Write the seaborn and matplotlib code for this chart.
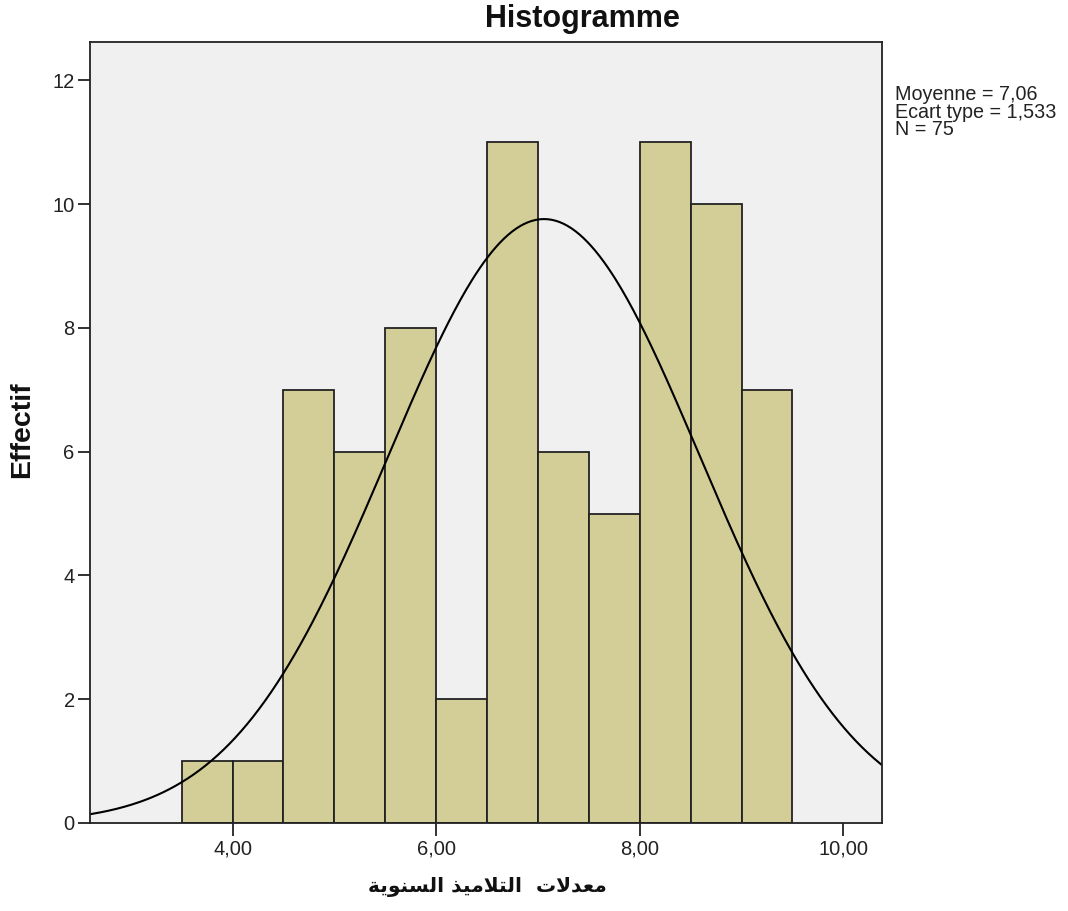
import numpy as np
import pandas as pd
import matplotlib
matplotlib.use("Agg")
import matplotlib.pyplot as plt
import seaborn as sns

# ---- data ----
bin_edges = [3.5, 4.0, 4.5, 5.0, 5.5, 6.0, 6.5, 7.0, 7.5, 8.0, 8.5, 9.0, 9.5]
counts = [1, 1, 7, 6, 8, 2, 11, 6, 5, 11, 10, 7]
mean_val = 7.06
sd_val = 1.533
n_val = 75
x_ticks = [4.0, 6.0, 8.0, 10.0]
x_tick_labels = ["4,00", "6,00", "8,00", "10,00"]
y_ticks = [0, 2, 4, 6, 8, 10, 12]
title_text = "Histogramme"
y_label = "Effectif"
# "معدلات  التلاميذ السنوية" written with Arabic presentation forms in visual order
x_label = ("\uFE94\uFEF3\uFEEE\uFEE8\uFEB4\uFEDF\uFE8D"
           " "
           "\uFEAC\uFEF4\uFEE3\uFEFC\uFE98\uFEDF\uFE8D"
           "  "
           "\uFE95\uFEFB\uFEAA\uFECC\uFEE3")
stats_lines = ["Moyenne = 7,06", "Ecart type = 1,533", "N = 75"]

sns.set_theme(style="white")
plt.rcParams['font.family'] = ['Liberation Sans', 'DejaVu Sans']

fig = plt.figure(figsize=(10.68, 9.11), dpi=100)
ax = fig.add_axes([90/1068, 1 - 823/911, (882-90)/1068, (823-42)/911])
ax.set_facecolor("#f0f0f0")

centers = [(bin_edges[i] + bin_edges[i+1]) / 2 for i in range(len(counts))]
df = pd.DataFrame({"x": centers, "w": counts})
sns.histplot(data=df, x="x", weights="w", bins=bin_edges, ax=ax,
             color="#d3ce97", alpha=1.0, edgecolor="#222222", linewidth=1.3)

xs = np.linspace(2.6, 10.4, 400)
pdf = n_val * 0.5 * np.exp(-0.5 * ((xs - mean_val) / sd_val) ** 2) / (sd_val * np.sqrt(2 * np.pi))
sns.lineplot(x=xs, y=pdf, ax=ax, color="black", linewidth=1.5)

ax.set_xlim(2.6, 10.38)
ax.set_ylim(0, 12.62)
ax.set_xticks(x_ticks)
ax.set_xticklabels(x_tick_labels)
ax.set_yticks(y_ticks)
ax.tick_params(axis="both", which="major", labelsize=14.5, length=9, width=1.3,
               color="#222222", labelcolor="#222222", direction="out",
               bottom=True, left=True)
ax.tick_params(axis="x", pad=3)
ax.tick_params(axis="y", pad=2)
for s in ax.spines.values():
    s.set_color("#222222")
    s.set_linewidth(1.3)

ax.set_xlabel("")
ax.set_ylabel("")
fig.text(582 / 1068, 1 - 19 / 911, title_text, ha="center", va="center",
         fontsize=22, fontweight="bold", color="#111111")
fig.text(22 / 1068, 1 - 430 / 911, y_label, ha="center", va="center", rotation=90,
         fontsize=20.5, fontweight="bold", color="#111111")
fig.text(487 / 1068, 1 - 887 / 911, x_label, ha="center", va="center",
         fontsize=14.5, fontweight="bold", color="#111111", family=["DejaVu Sans"])
for i, line in enumerate(stats_lines):
    fig.text(895 / 1068, 1 - (100 + 17.5 * i) / 911, line, ha="left", va="baseline",
             fontsize=14.2, color="#222222")

fig.savefig("out.png", dpi=100)
